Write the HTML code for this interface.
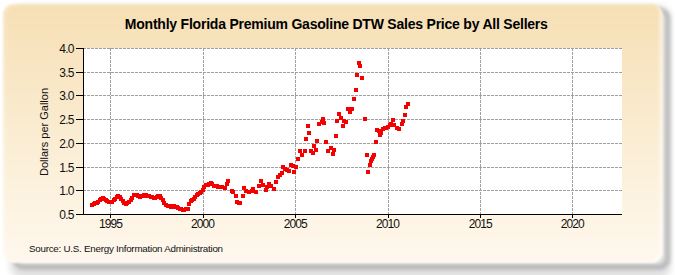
<!DOCTYPE html>
<html><head><meta charset="utf-8"><style>
html,body{margin:0;padding:0;background:#fff;width:675px;height:275px;overflow:hidden;position:relative;font-family:"Liberation Sans",sans-serif;}
#shadow{position:absolute;left:12px;top:7px;width:659px;height:263px;box-sizing:border-box;border-radius:12px;border:6px solid rgba(0,0,0,0.15);filter:blur(1.8px);}
#shadow2{position:absolute;left:10px;top:6px;width:661px;height:272px;border-radius:12px;background:rgba(0,0,0,0.12);filter:blur(3px);}
#panel{position:absolute;left:2.5px;top:3.5px;width:660.5px;height:259.5px;border-radius:11px;
background:linear-gradient(to bottom,#f6dfb4 0%,#f9e7c6 30%,#fbeed5 55%,#fff8ee 100%);filter:blur(1.1px);box-shadow:inset -4px -2px 2px rgba(255,255,255,0.45), inset 3px 2px 2px rgba(255,255,255,0.2);}
#title{position:absolute;left:0;width:675px;top:15.8px;text-align:center;font-weight:bold;font-size:14px;letter-spacing:-0.22px;text-indent:-2.5px;color:#000;white-space:nowrap;}
svg{position:absolute;left:0;top:0;}
.yl{position:absolute;left:40px;width:33.8px;text-align:right;font-size:12px;letter-spacing:-0.7px;color:#111;line-height:14px;}
.xl{position:absolute;top:216.6px;width:40px;text-align:center;font-size:12px;letter-spacing:-0.9px;text-indent:0.2px;color:#111;line-height:14px;}
#ytitle{position:absolute;left:44px;top:131.7px;transform:translate(-50%,-50%) rotate(-90deg);font-size:11px;color:#111;white-space:nowrap;line-height:12px;}
#src{position:absolute;left:29px;top:243.4px;font-size:9.8px;letter-spacing:-0.25px;color:#111;white-space:nowrap;}
</style></head><body>
<div id="shadow2"></div><div id="shadow"></div><div id="panel"></div>
<div id="title">Monthly Florida Premium Gasoline DTW Sales Price by All Sellers</div>
<svg width="675" height="275" viewBox="0 0 675 275">
<rect x="84" y="48" width="538" height="166" fill="#fff"/>
<g stroke="#a0a0a0" stroke-width="1" stroke-dasharray="3,1" shape-rendering="crispEdges"><line x1="84" y1="48.5" x2="622" y2="48.5" stroke-dashoffset="1"/><line x1="84" y1="72.5" x2="622" y2="72.5" stroke-dashoffset="1"/><line x1="84" y1="95.5" x2="622" y2="95.5" stroke-dashoffset="1"/><line x1="84" y1="119.5" x2="622" y2="119.5" stroke-dashoffset="1"/><line x1="84" y1="143.5" x2="622" y2="143.5" stroke-dashoffset="1"/><line x1="84" y1="167.5" x2="622" y2="167.5" stroke-dashoffset="1"/><line x1="84" y1="190.5" x2="622" y2="190.5" stroke-dashoffset="1"/><line x1="110.5" y1="48" x2="110.5" y2="214"/><line x1="203.5" y1="48" x2="203.5" y2="214"/><line x1="295.5" y1="48" x2="295.5" y2="214"/><line x1="388.5" y1="48" x2="388.5" y2="214"/><line x1="480.5" y1="48" x2="480.5" y2="214"/><line x1="572.5" y1="48" x2="572.5" y2="214"/></g>
<g fill="#f50000" shape-rendering="crispEdges"><rect x="90.0" y="202.5" width="4" height="4"/><rect x="91.5" y="201.9" width="4" height="4"/><rect x="93.1" y="201.4" width="4" height="4"/><rect x="94.6" y="200.7" width="4" height="4"/><rect x="96.2" y="200.0" width="4" height="4"/><rect x="97.7" y="198.1" width="4" height="4"/><rect x="99.2" y="196.8" width="4" height="4"/><rect x="100.8" y="196.3" width="4" height="4"/><rect x="102.3" y="197.1" width="4" height="4"/><rect x="103.9" y="197.8" width="4" height="4"/><rect x="105.4" y="198.7" width="4" height="4"/><rect x="106.9" y="199.6" width="4" height="4"/><rect x="108.5" y="199.7" width="4" height="4"/><rect x="110.0" y="199.8" width="4" height="4"/><rect x="111.6" y="198.4" width="4" height="4"/><rect x="113.1" y="196.8" width="4" height="4"/><rect x="114.6" y="194.5" width="4" height="4"/><rect x="116.2" y="193.6" width="4" height="4"/><rect x="117.7" y="194.9" width="4" height="4"/><rect x="119.3" y="197.3" width="4" height="4"/><rect x="120.8" y="199.3" width="4" height="4"/><rect x="122.3" y="201.0" width="4" height="4"/><rect x="123.9" y="202.0" width="4" height="4"/><rect x="125.4" y="201.2" width="4" height="4"/><rect x="127.0" y="200.2" width="4" height="4"/><rect x="128.5" y="198.1" width="4" height="4"/><rect x="130.0" y="195.6" width="4" height="4"/><rect x="131.6" y="192.8" width="4" height="4"/><rect x="133.1" y="193.1" width="4" height="4"/><rect x="134.7" y="193.4" width="4" height="4"/><rect x="136.2" y="194.2" width="4" height="4"/><rect x="137.7" y="194.5" width="4" height="4"/><rect x="139.3" y="194.1" width="4" height="4"/><rect x="140.8" y="193.7" width="4" height="4"/><rect x="142.4" y="193.2" width="4" height="4"/><rect x="143.9" y="193.2" width="4" height="4"/><rect x="145.4" y="193.6" width="4" height="4"/><rect x="147.0" y="194.1" width="4" height="4"/><rect x="148.5" y="194.8" width="4" height="4"/><rect x="150.1" y="195.4" width="4" height="4"/><rect x="151.6" y="195.8" width="4" height="4"/><rect x="153.1" y="195.9" width="4" height="4"/><rect x="154.7" y="195.0" width="4" height="4"/><rect x="156.2" y="194.3" width="4" height="4"/><rect x="157.8" y="194.2" width="4" height="4"/><rect x="159.3" y="196.0" width="4" height="4"/><rect x="160.8" y="198.3" width="4" height="4"/><rect x="162.4" y="200.5" width="4" height="4"/><rect x="163.9" y="202.6" width="4" height="4"/><rect x="165.5" y="204.0" width="4" height="4"/><rect x="167.0" y="204.3" width="4" height="4"/><rect x="168.5" y="204.5" width="4" height="4"/><rect x="170.1" y="204.4" width="4" height="4"/><rect x="171.6" y="204.3" width="4" height="4"/><rect x="173.2" y="204.9" width="4" height="4"/><rect x="174.7" y="205.4" width="4" height="4"/><rect x="176.2" y="206.1" width="4" height="4"/><rect x="177.8" y="206.8" width="4" height="4"/><rect x="179.3" y="207.3" width="4" height="4"/><rect x="180.9" y="207.8" width="4" height="4"/><rect x="182.4" y="207.7" width="4" height="4"/><rect x="183.9" y="207.4" width="4" height="4"/><rect x="185.5" y="207.2" width="4" height="4"/><rect x="187.0" y="201.5" width="4" height="4"/><rect x="188.6" y="199.4" width="4" height="4"/><rect x="190.1" y="198.1" width="4" height="4"/><rect x="191.6" y="196.6" width="4" height="4"/><rect x="193.2" y="195.0" width="4" height="4"/><rect x="194.7" y="193.3" width="4" height="4"/><rect x="196.3" y="192.3" width="4" height="4"/><rect x="197.8" y="191.3" width="4" height="4"/><rect x="199.3" y="189.6" width="4" height="4"/><rect x="200.9" y="187.8" width="4" height="4"/><rect x="202.4" y="184.8" width="4" height="4"/><rect x="204.0" y="182.9" width="4" height="4"/><rect x="205.5" y="182.8" width="4" height="4"/><rect x="207.0" y="182.2" width="4" height="4"/><rect x="208.6" y="181.4" width="4" height="4"/><rect x="210.1" y="182.0" width="4" height="4"/><rect x="211.7" y="183.6" width="4" height="4"/><rect x="213.2" y="184.1" width="4" height="4"/><rect x="214.7" y="184.3" width="4" height="4"/><rect x="216.3" y="184.7" width="4" height="4"/><rect x="217.8" y="185.2" width="4" height="4"/><rect x="219.9" y="185.3" width="4" height="4"/><rect x="222.5" y="185.9" width="4" height="4"/><rect x="225.0" y="181.5" width="4" height="4"/><rect x="226.3" y="178.9" width="4" height="4"/><rect x="229.5" y="189.1" width="4" height="4"/><rect x="231.4" y="189.7" width="4" height="4"/><rect x="233.9" y="193.5" width="4" height="4"/><rect x="234.5" y="199.9" width="4" height="4"/><rect x="236.5" y="201.0" width="4" height="4"/><rect x="238.4" y="201.2" width="4" height="4"/><rect x="240.7" y="193.5" width="4" height="4"/><rect x="242.4" y="185.9" width="4" height="4"/><rect x="244.4" y="189.1" width="4" height="4"/><rect x="246.9" y="189.7" width="4" height="4"/><rect x="249.5" y="188.5" width="4" height="4"/><rect x="251.4" y="186.5" width="4" height="4"/><rect x="253.9" y="189.7" width="4" height="4"/><rect x="257.1" y="184.0" width="4" height="4"/><rect x="259.0" y="178.9" width="4" height="4"/><rect x="260.9" y="182.7" width="4" height="4"/><rect x="263.5" y="187.8" width="4" height="4"/><rect x="264.7" y="185.3" width="4" height="4"/><rect x="267.3" y="182.1" width="4" height="4"/><rect x="269.2" y="184.0" width="4" height="4"/><rect x="271.7" y="186.5" width="4" height="4"/><rect x="274.3" y="180.2" width="4" height="4"/><rect x="276.3" y="175.3" width="4" height="4"/><rect x="277.9" y="173.1" width="4" height="4"/><rect x="279.5" y="170.9" width="4" height="4"/><rect x="280.6" y="165.4" width="4" height="4"/><rect x="282.8" y="167.1" width="4" height="4"/><rect x="285.0" y="168.2" width="4" height="4"/><rect x="286.6" y="168.7" width="4" height="4"/><rect x="288.8" y="162.7" width="4" height="4"/><rect x="291.0" y="163.8" width="4" height="4"/><rect x="292.1" y="170.4" width="4" height="4"/><rect x="294.3" y="165.4" width="4" height="4"/><rect x="295.9" y="156.5" width="4" height="4"/><rect x="298.1" y="149.3" width="4" height="4"/><rect x="300.3" y="152.9" width="4" height="4"/><rect x="302.5" y="148.5" width="4" height="4"/><rect x="303.9" y="136.9" width="4" height="4"/><rect x="306.1" y="123.8" width="4" height="4"/><rect x="306.8" y="130.8" width="4" height="4"/><rect x="308.7" y="148.5" width="4" height="4"/><rect x="311.2" y="150.7" width="4" height="4"/><rect x="311.9" y="143.5" width="4" height="4"/><rect x="314.1" y="147.8" width="4" height="4"/><rect x="314.8" y="138.8" width="4" height="4"/><rect x="317.0" y="121.6" width="4" height="4"/><rect x="319.9" y="120.2" width="4" height="4"/><rect x="321.2" y="117.1" width="4" height="4"/><rect x="322.1" y="121.0" width="4" height="4"/><rect x="324.1" y="139.5" width="4" height="4"/><rect x="326.0" y="149.3" width="4" height="4"/><rect x="328.7" y="145.5" width="4" height="4"/><rect x="331.5" y="148.2" width="4" height="4"/><rect x="330.9" y="152.0" width="4" height="4"/><rect x="333.6" y="134.0" width="4" height="4"/><rect x="335.0" y="119.2" width="4" height="4"/><rect x="337.2" y="112.2" width="4" height="4"/><rect x="338.7" y="115.5" width="4" height="4"/><rect x="340.5" y="123.5" width="4" height="4"/><rect x="341.8" y="118.5" width="4" height="4"/><rect x="343.7" y="119.7" width="4" height="4"/><rect x="346.3" y="107.0" width="4" height="4"/><rect x="347.5" y="109.5" width="4" height="4"/><rect x="350.1" y="107.0" width="4" height="4"/><rect x="352.1" y="96.7" width="4" height="4"/><rect x="353.9" y="87.5" width="4" height="4"/><rect x="354.8" y="72.6" width="4" height="4"/><rect x="356.6" y="61.2" width="4" height="4"/><rect x="357.9" y="63.9" width="4" height="4"/><rect x="360.3" y="76.3" width="4" height="4"/><rect x="362.8" y="116.9" width="4" height="4"/><rect x="365.0" y="152.5" width="4" height="4"/><rect x="365.6" y="170.4" width="4" height="4"/><rect x="367.5" y="163.4" width="4" height="4"/><rect x="368.6" y="159.0" width="4" height="4"/><rect x="369.8" y="157.3" width="4" height="4"/><rect x="370.9" y="155.0" width="4" height="4"/><rect x="372.0" y="152.5" width="4" height="4"/><rect x="373.8" y="139.9" width="4" height="4"/><rect x="375.0" y="127.5" width="4" height="4"/><rect x="376.7" y="128.5" width="4" height="4"/><rect x="378.0" y="133.0" width="4" height="4"/><rect x="379.3" y="131.0" width="4" height="4"/><rect x="381.1" y="126.5" width="4" height="4"/><rect x="382.7" y="126.3" width="4" height="4"/><rect x="384.3" y="125.5" width="4" height="4"/><rect x="386.0" y="124.5" width="4" height="4"/><rect x="387.6" y="123.4" width="4" height="4"/><rect x="389.3" y="122.0" width="4" height="4"/><rect x="390.7" y="118.0" width="4" height="4"/><rect x="392.3" y="123.2" width="4" height="4"/><rect x="394.6" y="125.6" width="4" height="4"/><rect x="397.0" y="126.5" width="4" height="4"/><rect x="399.5" y="122.4" width="4" height="4"/><rect x="401.1" y="119.1" width="4" height="4"/><rect x="402.7" y="112.5" width="4" height="4"/><rect x="404.4" y="105.2" width="4" height="4"/><rect x="405.7" y="101.9" width="4" height="4"/></g>
<g stroke="#000" stroke-width="1" shape-rendering="crispEdges">
<line x1="83.5" y1="48" x2="83.5" y2="215"/>
<line x1="76" y1="214.5" x2="622" y2="214.5"/>
<line x1="76" y1="48.5" x2="83" y2="48.5"/><line x1="76" y1="72.5" x2="83" y2="72.5"/><line x1="76" y1="95.5" x2="83" y2="95.5"/><line x1="76" y1="119.5" x2="83" y2="119.5"/><line x1="76" y1="143.5" x2="83" y2="143.5"/><line x1="76" y1="167.5" x2="83" y2="167.5"/><line x1="76" y1="190.5" x2="83" y2="190.5"/><line x1="76" y1="214.5" x2="83" y2="214.5"/><line x1="110.5" y1="214" x2="110.5" y2="218"/><line x1="203.5" y1="214" x2="203.5" y2="218"/><line x1="295.5" y1="214" x2="295.5" y2="218"/><line x1="388.5" y1="214" x2="388.5" y2="218"/><line x1="480.5" y1="214" x2="480.5" y2="218"/><line x1="572.5" y1="214" x2="572.5" y2="218"/>
</g>
</svg>
<div class="yl" style="top:42.1px">4.0</div><div class="yl" style="top:66.1px">3.5</div><div class="yl" style="top:89.1px">3.0</div><div class="yl" style="top:113.1px">2.5</div><div class="yl" style="top:137.1px">2.0</div><div class="yl" style="top:161.1px">1.5</div><div class="yl" style="top:184.1px">1.0</div><div class="yl" style="top:208.1px">0.5</div><div class="xl" style="left:90.50px">1995</div><div class="xl" style="left:182.40px">2000</div><div class="xl" style="left:275.20px">2005</div><div class="xl" style="left:367.50px">2010</div><div class="xl" style="left:460.20px">2015</div><div class="xl" style="left:552.20px">2020</div>
<div id="ytitle">Dollars per Gallon</div>
<div id="src">Source: U.S. Energy Information Administration</div>
</body></html>
